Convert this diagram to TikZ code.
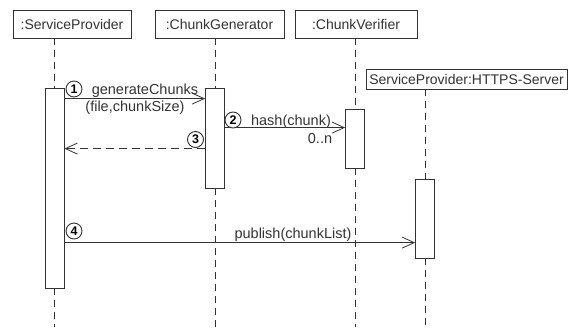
\documentclass[tikz,border=0pt]{standalone}
\usepackage{fontspec}
\setmainfont{Liberation Sans}
\usetikzlibrary{arrows.meta}
\definecolor{ink}{gray}{0.2}
\tikzset{
  objbox/.style={draw=ink, line width=0.8pt, fill=white, inner sep=0pt,
    minimum height=28pt, font=\fontsize{14}{16}\selectfont, text=ink},
  actbox/.style={draw=ink, line width=0.8pt, fill=white, inner sep=0pt,
    minimum width=19pt},
  lifeline/.style={draw=ink, line width=0.8pt, dash pattern=on 7pt off 5pt},
  msgline/.style={draw=ink, line width=0.8pt,
    -{Straight Barb[length=12pt,width=11pt]}},
  retline/.style={msgline, dash pattern=on 8pt off 5pt},
  msglabel/.style={anchor=base, inner sep=0pt, text=ink,
    font=\fontsize{14.5}{16}\selectfont},
  seqnum/.style={circle, draw=ink, line width=0.9pt, fill=white, inner sep=0pt,
    minimum size=16pt, text=black, font=\fontsize{12.5}{13}\selectfont\bfseries}
}
\begin{document}
\begin{tikzpicture}[x=1pt, y=-1pt]
  \useasboundingbox (0,0) rectangle (577,327);
  \coordinate (bot) at (0,327);

  % participants
  \node[objbox, minimum width=118pt] (sp) at (72,24)   {:ServiceProvider};
  \node[objbox, minimum width=129pt] (cg) at (219.5,24) {:ChunkGenerator};
  \node[objbox, minimum width=122pt] (cv) at (356,24)  {:ChunkVerifier};
  \node[objbox, minimum width=201pt, minimum height=20pt] (hs) at (466.5,79)
    {ServiceProvider:HTTPS-Server};

  % activation bars
  \node[actbox, minimum height=200pt] (asp) at (54.5,188)  {};
  \node[actbox, minimum height=100pt] (acg) at (215,138)   {};
  \node[actbox, minimum height=59pt]  (acv) at (355,138.5) {};
  \node[actbox, minimum height=79pt]  (ahs) at (425,218.5) {};

  % lifelines
  \draw[lifeline] (asp.north |- sp.south) -- (asp.north);
  \draw[lifeline] (asp.south) -- (asp.south |- bot);
  \draw[lifeline] (acg.north |- cg.south) -- (acg.north);
  \draw[lifeline] (acg.south) -- (acg.south |- bot);
  \draw[lifeline] (acv.north |- cv.south) -- (acv.north);
  \draw[lifeline] (acv.south) -- (acv.south |- bot);
  \draw[lifeline] (ahs.north |- hs.south) -- (ahs.north);
  \draw[lifeline] (ahs.south) -- (ahs.south |- bot);

  % messages
  \draw[msgline] ([yshift=-11pt]asp.north east) -- ([yshift=-11pt]acg.north west);
  \draw[msgline] ([yshift=-40pt]acg.north east) -- ([yshift=-19pt]acv.north west);
  \draw[retline] ([yshift=-61pt]acg.north west) -- ([yshift=-61pt]asp.north east);
  \draw[msgline] ([yshift=-155pt]asp.north east) -- ([yshift=-64pt]ahs.north west);

  % message labels
  \node[msglabel] (l1a) at (145,94.5)  {generateChunks};
  \node[msglabel] (l1b) at (135,111.5) {(file,chunkSize)};
  \node[msglabel] (l2)  at (291,125)   {hash(chunk)};
  \node[msglabel] (l2m) at (320,143)   {0..n};
  \node[msglabel] (l4)  at (293,238)   {publish(chunkList)};

  % sequence numbers
  \node[seqnum] (n1) at (74,89)     {1};
  \node[seqnum] (n2) at (233,120)   {2};
  \node[seqnum] (n3) at (195.5,139.5) {3};
  \node[seqnum] (n4) at (74,231)    {4};
\end{tikzpicture}
\end{document}
